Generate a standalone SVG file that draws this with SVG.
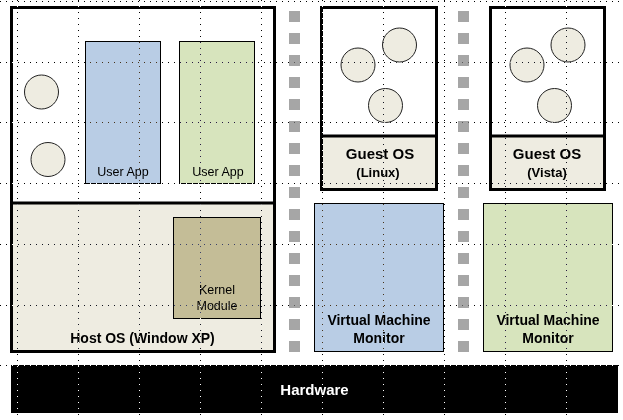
<svg xmlns="http://www.w3.org/2000/svg" width="623" height="420" viewBox="0 0 623 420">
<style>
.thick{fill:none;stroke:#000;stroke-width:3}
.div{stroke:#000;stroke-width:3}
.beige{fill:#eeece1}
.blue{fill:#b9cde5;stroke:#000;stroke-width:1}
.green{fill:#d7e4bd;stroke:#000;stroke-width:1}
.kern{fill:#c4bd97;stroke:#000;stroke-width:1}
.proc{fill:#eeece1;stroke:#222;stroke-width:1}
.sq{fill:#a6a6a6}
text{font-family:"Liberation Sans",Arial,sans-serif;text-anchor:middle;fill:#000}
.b{font-weight:bold;font-size:14px}
.g{font-weight:bold;font-size:15px}
.s{font-weight:bold;font-size:13px}
.n{font-size:12.5px}
.grid line{stroke:#fff;stroke-width:1;stroke-dasharray:1 5}
</style>
<rect x="0" y="0" width="623" height="420" fill="#fff"/>

<g id="host">
  <rect class="beige" x="11.5" y="203" width="263" height="148.5"/>
  <rect class="thick" x="11.5" y="7.5" width="263" height="344"/>
  <line class="div" x1="11.5" y1="203" x2="274.5" y2="203"/>
  <text class="b" x="142.5" y="343">Host OS (Window XP)</text>
</g>
<g id="host-proc1"><circle class="proc" cx="41.5" cy="92" r="17"/></g>
<g id="host-proc2"><circle class="proc" cx="48" cy="159.5" r="17"/></g>
<g id="userapp1">
  <rect class="blue" x="85.5" y="41.5" width="75" height="142"/>
  <text class="n" x="123" y="176">User App</text>
</g>
<g id="userapp2">
  <rect class="green" x="179.5" y="41.5" width="75" height="142"/>
  <text class="n" x="218" y="176">User App</text>
</g>
<g id="kernel">
  <rect class="kern" x="173.5" y="217.5" width="87" height="101"/>
  <text class="n" x="217" y="294">Kernel</text>
  <text class="n" x="217" y="310">Module</text>
</g>

<g id="guest-linux">
  <rect class="beige" x="321.5" y="136" width="115" height="53.5"/>
  <rect class="thick" x="321.5" y="7.5" width="115" height="182"/>
  <line class="div" x1="321.5" y1="136" x2="436.5" y2="136"/>
  <circle class="proc" cx="358" cy="65" r="17"/>
  <circle class="proc" cx="399.5" cy="45" r="17"/>
  <circle class="proc" cx="385.5" cy="105.5" r="17"/>
  <text class="g" x="380" y="159">Guest OS</text>
  <text class="s" x="378" y="177">(Linux)</text>
</g>
<g id="guest-vista">
  <rect class="beige" x="490.5" y="136" width="114" height="53.5"/>
  <rect class="thick" x="490.5" y="7.5" width="114" height="182"/>
  <line class="div" x1="490.5" y1="136" x2="604.5" y2="136"/>
  <circle class="proc" cx="527" cy="65" r="17"/>
  <circle class="proc" cx="568" cy="45" r="17"/>
  <circle class="proc" cx="554.5" cy="105.5" r="17"/>
  <text class="g" x="547" y="159">Guest OS</text>
  <text class="s" x="547" y="177">(Vista)</text>
</g>
<g id="vmm1">
  <rect class="blue" x="314.5" y="203.5" width="129" height="148"/>
  <text class="b" x="379" y="325">Virtual Machine</text>
  <text class="b" x="379" y="343">Monitor</text>
</g>
<g id="vmm2">
  <rect class="green" x="483.5" y="203.5" width="129" height="148"/>
  <text class="b" x="548" y="325">Virtual Machine</text>
  <text class="b" x="548" y="343">Monitor</text>
</g>
<g id="hardware">
  <rect x="11" y="365" width="607" height="48" fill="#000"/>
  <text class="g" x="314.5" y="395" style="fill:#fff">Hardware</text>
</g>

<g id="connectors">
  <g id="sep1">
    <rect class="sq" x="289" y="11" width="11" height="11"/><rect class="sq" x="289" y="33" width="11" height="11"/>
    <rect class="sq" x="289" y="55" width="11" height="11"/><rect class="sq" x="289" y="77" width="11" height="11"/>
    <rect class="sq" x="289" y="99" width="11" height="11"/><rect class="sq" x="289" y="121" width="11" height="11"/>
    <rect class="sq" x="289" y="143" width="11" height="11"/><rect class="sq" x="289" y="165" width="11" height="11"/>
    <rect class="sq" x="289" y="187" width="11" height="11"/><rect class="sq" x="289" y="209" width="11" height="11"/>
    <rect class="sq" x="289" y="231" width="11" height="11"/><rect class="sq" x="289" y="253" width="11" height="11"/>
    <rect class="sq" x="289" y="275" width="11" height="11"/><rect class="sq" x="289" y="297" width="11" height="11"/>
    <rect class="sq" x="289" y="319" width="11" height="11"/><rect class="sq" x="289" y="341" width="11" height="11"/>
  </g>
  <g id="sep2">
    <rect class="sq" x="458" y="11" width="11" height="11"/><rect class="sq" x="458" y="33" width="11" height="11"/>
    <rect class="sq" x="458" y="55" width="11" height="11"/><rect class="sq" x="458" y="77" width="11" height="11"/>
    <rect class="sq" x="458" y="99" width="11" height="11"/><rect class="sq" x="458" y="121" width="11" height="11"/>
    <rect class="sq" x="458" y="143" width="11" height="11"/><rect class="sq" x="458" y="165" width="11" height="11"/>
    <rect class="sq" x="458" y="187" width="11" height="11"/><rect class="sq" x="458" y="209" width="11" height="11"/>
    <rect class="sq" x="458" y="231" width="11" height="11"/><rect class="sq" x="458" y="253" width="11" height="11"/>
    <rect class="sq" x="458" y="275" width="11" height="11"/><rect class="sq" x="458" y="297" width="11" height="11"/>
    <rect class="sq" x="458" y="319" width="11" height="11"/><rect class="sq" x="458" y="341" width="11" height="11"/>
  </g>
</g>

<g class="grid" style="mix-blend-mode:difference">
  <line x1="0" y1="1.5" x2="623" y2="1.5"/>
  <line x1="0" y1="62.5" x2="623" y2="62.5"/>
  <line x1="0" y1="122.5" x2="623" y2="122.5"/>
  <line x1="0" y1="183.5" x2="623" y2="183.5"/>
  <line x1="0" y1="244.5" x2="623" y2="244.5"/>
  <line x1="0" y1="305.5" x2="623" y2="305.5"/>
  <line x1="0" y1="365.5" x2="623" y2="365.5"/>
  <line x1="17.5" y1="0" x2="17.5" y2="420"/>
  <line x1="78.5" y1="0" x2="78.5" y2="420"/>
  <line x1="139.5" y1="0" x2="139.5" y2="420"/>
  <line x1="200.5" y1="0" x2="200.5" y2="420"/>
  <line x1="261.5" y1="0" x2="261.5" y2="420"/>
  <line x1="322.5" y1="0" x2="322.5" y2="420"/>
  <line x1="383.5" y1="0" x2="383.5" y2="420"/>
  <line x1="444.5" y1="0" x2="444.5" y2="420"/>
  <line x1="505.5" y1="0" x2="505.5" y2="420"/>
  <line x1="566.5" y1="0" x2="566.5" y2="420"/>
</g>
</svg>
